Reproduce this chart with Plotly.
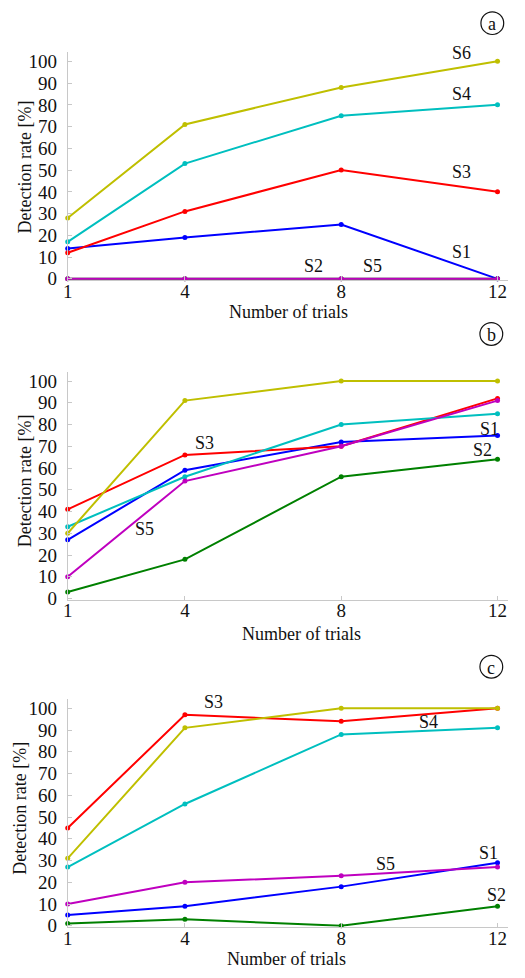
import plotly.graph_objects as go

trials = [1, 4, 8, 12]
series_names = ["S1", "S2", "S3", "S4", "S5", "S6"]
colors = ["#0000FF", "#008000", "#FF0000", "#00BFBF", "#BF00BF", "#BFBF00"]

# panel (a)
a_S1 = [14, 19, 25, 0]
a_S2 = [0, 0, 0, 0]
a_S3 = [12, 31, 50, 40]
a_S4 = [17, 53, 75, 80]
a_S5 = [0, 0, 0, 0]
a_S6 = [28, 71, 88, 100]

# panel (b)
b_S1 = [27, 59, 72, 75]
b_S2 = [3, 18, 56, 64]
b_S3 = [41, 66, 70, 92]
b_S4 = [33, 56, 80, 85]
b_S5 = [10, 54, 70, 91]
b_S6 = [30, 91, 100, 100]

# panel (c)
c_S1 = [5, 9, 18, 29]
c_S2 = [1, 3, 0, 9]
c_S3 = [45, 97, 94, 100]
c_S4 = [27, 56, 88, 91]
c_S5 = [10, 20, 23, 27]
c_S6 = [31, 91, 100, 100]

panels = [
    [a_S1, a_S2, a_S3, a_S4, a_S5, a_S6],
    [b_S1, b_S2, b_S3, b_S4, b_S5, b_S6],
    [c_S1, c_S2, c_S3, c_S4, c_S5, c_S6],
]
panel_letters = ["a", "b", "c"]

# series label positions (data coordinates)
label_pos = [
    {"S6": (11.08, 104), "S4": (11.08, 85), "S3": (11.08, 49), "S1": (11.08, 12.3),
     "S2": (7.30, 5.9), "S5": (8.80, 5.9)},
    {"S6": (11.80, 106.2), "S4": (12.37, 85.8), "S1": (11.80, 78), "S2": (11.61, 68.2),
     "S3": (4.49, 71.7), "S5": (2.97, 31.8)},
    {"S3": (4.74, 102.7), "S6": (11.01, 105.8), "S4": (10.23, 93.8), "S1": (11.77, 33.5),
     "S5": (9.14, 28.6), "S2": (11.97, 14.2)},
]

W, H = 525, 978
FONT = "Liberation Serif, Times New Roman, serif"

# pixel geometry of plot areas (top, bottom)
areas = [(51.8, 282.1), (375.1, 605.4), (706.1, 936.4)]
xdom = [63.3 / W, 508.3 / W]
xtitle_pos = [(286, 315), (299, 640), (284, 969)]
ytitle_pos = [(20, 167.5), (20, 485), (15, 816)]
circle_pos = [(492, 22.4), (491, 336.7), (491, 673.3)]

fig = go.Figure()
annotations = []
shapes = []

for p in range(3):
    suffix = "" if p == 0 else str(p + 1)
    xref = "x" + suffix
    yref = "y" + suffix
    for i, name in enumerate(series_names):
        fig.add_trace(go.Scatter(
            x=trials, y=panels[p][i], mode="lines+markers", name=name,
            line=dict(color=colors[i], width=2),
            marker=dict(color=colors[i], size=5),
            xaxis=xref, yaxis=yref, showlegend=False, cliponaxis=False,
        ))
    top, bot = areas[p]
    fig.update_layout(**{
        "xaxis" + suffix: dict(
            domain=xdom, range=[1, 12.28], anchor=yref,
            tickvals=trials, ticktext=[str(t) for t in trials],
            showline=True, linecolor="#c8c8c8", linewidth=1,
            ticks="inside", ticklen=4, tickcolor="#c8c8c8",
            showgrid=False, zeroline=False,
            tickfont=dict(family=FONT, size=19, color="#111"),
            ticklabelstandoff=-6,
        ),
        "yaxis" + suffix: dict(
            domain=[1 - bot / H, 1 - top / H], range=[-0.5, 104.2], anchor=xref,
            tickvals=list(range(0, 101, 10)),
            showline=True, linecolor="#c8c8c8", linewidth=1,
            ticks="inside", ticklen=4, tickcolor="#c8c8c8",
            showgrid=False, zeroline=False,
            tickfont=dict(family=FONT, size=19, color="#111"),
            ticklabelstandoff=6,
        ),
    })
    for name, (lx, ly) in label_pos[p].items():
        annotations.append(dict(
            x=lx, y=ly, xref=xref, yref=yref, text=name, showarrow=False,
            font=dict(family=FONT, size=18, color="#111"),
        ))
    tx, ty = xtitle_pos[p]
    annotations.append(dict(
        x=tx / W, y=1 - ty / H, xref="paper", yref="paper", text="Number of trials",
        showarrow=False, font=dict(family=FONT, size=18, color="#111"),
        xanchor="center", yanchor="middle",
    ))
    yx, yy = ytitle_pos[p]
    annotations.append(dict(
        x=yx / W, y=1 - yy / H, xref="paper", yref="paper", text="Detection rate [%]",
        showarrow=False, textangle=-90, font=dict(family=FONT, size=18, color="#111"),
        xanchor="center", yanchor="middle",
    ))
    cx, cy = circle_pos[p]
    r = 11.5
    shapes.append(dict(
        type="circle", xref="paper", yref="paper",
        x0=(cx - r) / W, x1=(cx + r) / W, y0=1 - (cy + r) / H, y1=1 - (cy - r) / H,
        line=dict(color="#111", width=1.2),
    ))
    annotations.append(dict(
        x=cx / W, y=1 - (cy + 1) / H, xref="paper", yref="paper", text=panel_letters[p],
        showarrow=False, font=dict(family=FONT, size=18, color="#111"),
        xanchor="center", yanchor="middle",
    ))

fig.update_layout(
    width=W, height=H, margin=dict(l=0, r=0, t=0, b=0),
    paper_bgcolor="white", plot_bgcolor="white",
    annotations=annotations, shapes=shapes,
)

fig.write_html("out.html")
